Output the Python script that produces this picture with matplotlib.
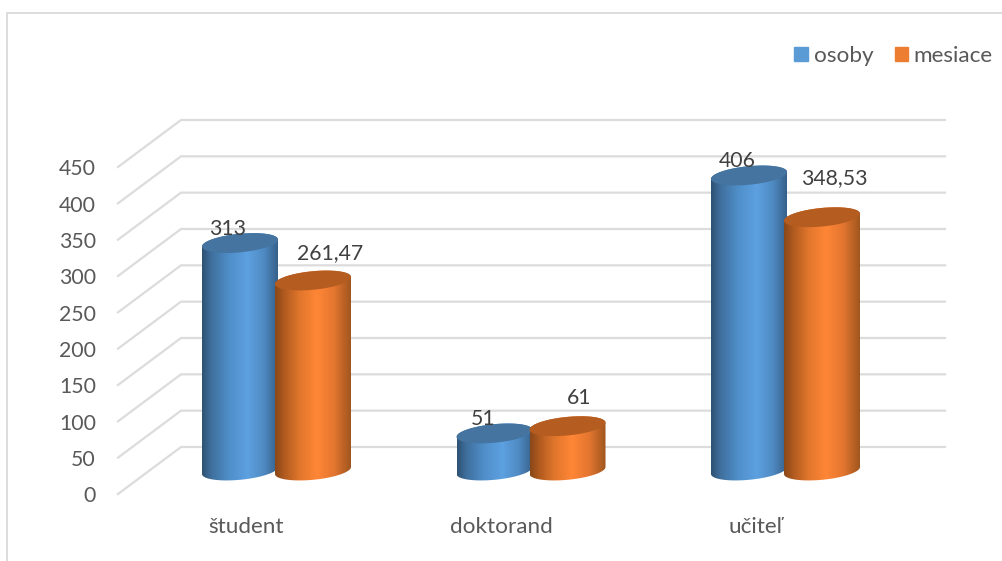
import numpy as np
import matplotlib
matplotlib.use("Agg")
import matplotlib.pyplot as plt
from matplotlib.colors import LinearSegmentedColormap
from matplotlib.patches import Patch, PathPatch
from matplotlib.path import Path

# data
categories = ["študent", "doktorand", "učiteľ"]
osoby = [313, 51, 406]
mesiace = [261.47, 61, 348.53]
y_ticks = [0, 50, 100, 150, 200, 250, 300, 350, 400, 450]

# layout, in pixels of the 1002x561 picture
W, H = 1002, 561
PX_X = 254.5             # one category step
PX_Y = 0.7267            # one value unit
X0, Y0 = 276.5, 470.5    # pixel position of first category, value 0
DEPTH = 23.5             # wall is this far above/below the bar base
FONT = 16.2
NUM_FONT = 15.3          # digits are wider in Lato than in the original font

plt.rcParams["font.family"] = ["Lato", "DejaVu Sans"]
fig = plt.figure(figsize=(W / 100, H / 100), dpi=100)
ax = fig.add_axes([0, 0, 1, 1])
ax.set_xlim(-X0 / PX_X, (W - X0) / PX_X)
ax.set_ylim((Y0 - H) / PX_Y, Y0 / PX_Y)
ax.axis("off")


def px_x(px):
    return (px - X0) / PX_X


# outer frame of the chart
ax.plot([px_x(7), px_x(7), px_x(1002)], [(Y0 - 561) / PX_Y, (Y0 - 13) / PX_Y, (Y0 - 13) / PX_Y],
        color="#d9d9d9", lw=1.3, zorder=1)

# gridlines on side wall and back wall
for v in y_ticks:
    ax.plot([px_x(118), px_x(181), px_x(945)],
            [v - DEPTH / PX_Y, v + DEPTH / PX_Y, v + DEPTH / PX_Y],
            color="#dcdcdc", lw=1.6, zorder=1)
    ax.annotate(str(v), (px_x(96), v - DEPTH / PX_Y), xytext=(0, -2.5 * 0.72), textcoords="offset points",
                ha="right", va="center", fontsize=NUM_FONT, color="#595959")

blue_map = LinearSegmentedColormap.from_list(
    "blue", [(0, "#2e5273"), (0.12, "#3f6f9d"), (0.35, "#4f8ec8"), (0.6, "#5da1e1"), (0.82, "#4f8ac2"), (1, "#37618a")])
orange_map = LinearSegmentedColormap.from_list(
    "orange", [(0, "#8a4818"), (0.12, "#b05a20"), (0.32, "#e0762c"), (0.55, "#ff8636"), (0.78, "#e47630"), (1, "#a0561f")])

BAR_W = 76 / PX_X
BAR_OFF = 36.5 / PX_X
TILT = 3.5 / PX_Y
MINOR = 9.3 / PX_Y


def cylinder(xc, value, cmap, top_color, z):
    a = BAR_W / 2
    # lower half of the base, then back along the lower half of the top
    t = np.linspace(np.pi, 2 * np.pi, 60)
    t2 = np.linspace(0, np.pi, 60)
    low_x = xc + a * np.cos(t)
    low_y = TILT * np.cos(t) + MINOR * np.sin(t)
    up_x = xc + a * np.cos(t2)
    up_y = value + TILT * np.cos(t2) + MINOR * np.sin(t2)
    verts = np.column_stack([np.r_[low_x, up_x, low_x[0]], np.r_[low_y, up_y, low_y[0]]])
    body = PathPatch(Path(verts), facecolor="none", edgecolor="none", zorder=z)
    ax.add_patch(body)
    grad = np.linspace(0, 1, 200).reshape(1, -1)
    im = ax.imshow(grad, cmap=cmap, aspect="auto", zorder=z, interpolation="bilinear",
                   extent=[xc - a, xc + a, -MINOR - TILT, value + MINOR + TILT])
    im.set_clip_path(body)
    # top cap
    t3 = np.linspace(0, 2 * np.pi, 120)
    cap = np.column_stack([xc + a * np.cos(t3), value + TILT * np.cos(t3) + MINOR * np.sin(t3)])
    ax.add_patch(PathPatch(Path(cap), facecolor=top_color, edgecolor="none", zorder=z + 0.1))


def label(x, value, dx, dy):
    txt = str(value).replace(".", ",")
    ax.annotate(txt, (x, value), xytext=(dx * 0.72, dy * 0.72), textcoords="offset points",
                ha="center", va="center", fontsize=NUM_FONT, color="#404040", zorder=10)


# per label offsets in pixels from the top of its bar
osoby_off = [(-12, 14), (-11, 14), (-12, 14)]
mesiace_off = [(17, 27.5), (11.5, 28), (12, 39)]

for i in range(len(categories)):
    cylinder(i - BAR_OFF, osoby[i], blue_map, "#44749f", 3 + i)
    cylinder(i + BAR_OFF, mesiace[i], orange_map, "#b55d20", 3.5 + i)
    label(i - BAR_OFF, osoby[i], *osoby_off[i])
    label(i + BAR_OFF, mesiace[i], *mesiace_off[i])
    ax.annotate(categories[i], (i, 0), xytext=(-30 * 0.72, -56.5 * 0.72), textcoords="offset points",
                ha="center", va="center", fontsize=FONT, color="#595959")

ax.set_xlim(-X0 / PX_X, (W - X0) / PX_X)
ax.set_ylim((Y0 - H) / PX_Y, Y0 / PX_Y)

handles = [Patch(color="#5b9bd5", label="osoby"), Patch(color="#ed7d31", label="mesiace")]
ax.legend(handles=handles, ncol=2, frameon=False, fontsize=FONT, labelcolor="#595959",
          handlelength=0.62, handleheight=0.62, handletextpad=0.24, columnspacing=0.94,
          loc="center right", bbox_to_anchor=(0.991, 0.9), borderpad=0, borderaxespad=0)

fig.savefig("out.png", dpi=100)
